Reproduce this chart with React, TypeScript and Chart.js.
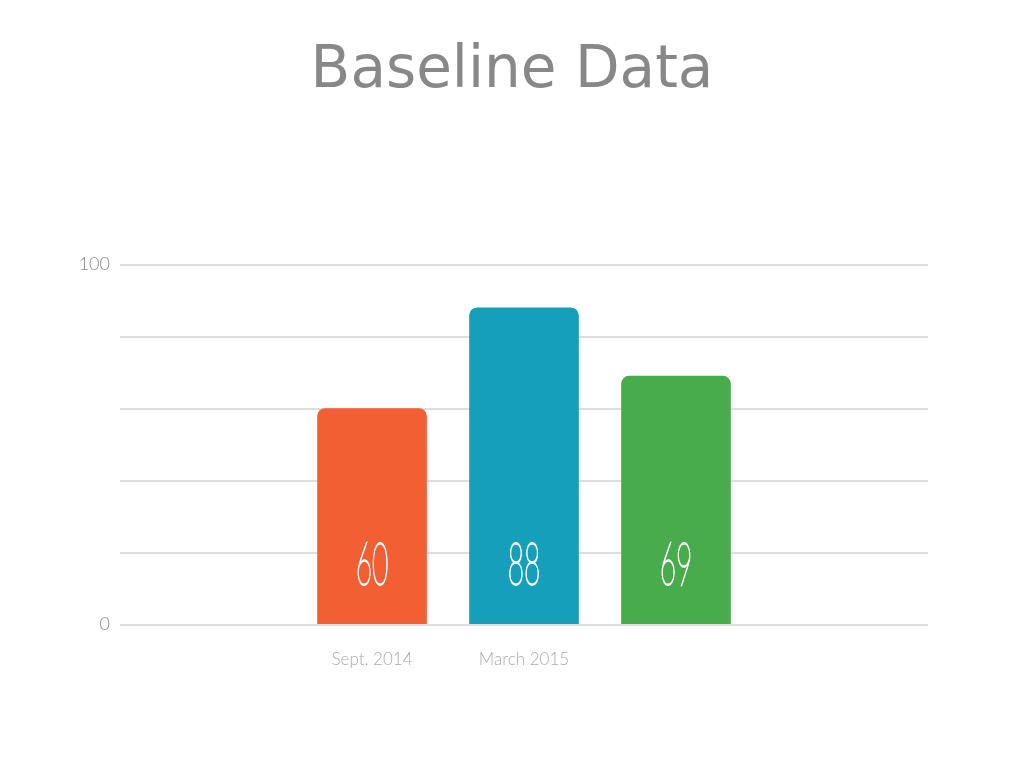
import React, { useEffect, useRef } from "react";
import { Chart, registerables } from "chart.js";

Chart.register(...registerables);

// ---- data ----
const chartTitle = "Baseline Data";
const categories = ["Sept. 2014", "March 2015", ""];
const positions = [1, 2, 3];
const values = [60, 88, 69];
const barColors = ["#F15F33", "#169FBA", "#49AC4C"];
const yTickValues = [0, 100];
const xMin = -0.658;
const xMax = 4.658;

const valueLabelPlugin = {
  id: "valueLabels",
  afterDatasetsDraw(chart: any) {
    const ctx = chart.ctx as CanvasRenderingContext2D;
    const meta = chart.getDatasetMeta(0);
    const y0 = chart.scales.y.getPixelForValue(0);
    ctx.save();
    ctx.fillStyle = "#ffffff";
    ctx.strokeStyle = "#ffffff";
    ctx.lineWidth = 1.8;
    ctx.font = "100 60px Lato";
    ctx.textAlign = "center";
    ctx.textBaseline = "alphabetic";
    meta.data.forEach((bar: any, i: number) => {
      ctx.save();
      ctx.translate(bar.x, y0 - 40);
      ctx.scale(0.47, 1);
      ctx.fillText(String(values[i]), 0, 0);
      ctx.strokeText(String(values[i]), 0, 0);
      ctx.restore();
    });
    ctx.restore();
  },
};

export default function App() {
  const canvasRef = useRef<HTMLCanvasElement | null>(null);

  useEffect(() => {
    if (!canvasRef.current) return;
    const chart = new Chart(canvasRef.current, {
      type: "bar",
      data: {
        datasets: [
          {
            data: positions.map((x, i) => ({ x, y: values[i] })),
            backgroundColor: barColors,
            barThickness: 109,
            borderRadius: { topLeft: 8, topRight: 8, bottomLeft: 0, bottomRight: 0 },
            borderSkipped: "start",
          },
        ],
      },
      options: {
        responsive: false,
        animation: false,
        events: [],
        layout: { padding: { left: 0, right: 0, top: 0, bottom: 73 } },
        plugins: {
          legend: { display: false },
          tooltip: { enabled: false },
          title: {
            display: true,
            text: chartTitle,
            color: "#888888",
            font: { family: "'DejaVu Sans'", size: 58, weight: "normal" },
            padding: { top: 37, bottom: 158 },
          },
        },
        scales: {
          x: {
            type: "linear",
            offset: false,
            bounds: "data",
            min: xMin,
            max: xMax,
            grid: { display: false, drawTicks: false, offset: false },
            border: { display: false },
            afterDataLimits: (scale: any) => {
              scale.min = xMin;
              scale.max = xMax;
            },
            afterBuildTicks: (scale: any) => {
              scale.ticks = positions.map((v) => ({ value: v }));
              scale.min = xMin;
              scale.max = xMax;
            },
            ticks: {
              autoSkip: false,
              includeBounds: false,
              maxRotation: 0,
              padding: 25,
              color: "#aaaaaa",
              font: { family: "Lato", size: 17, weight: "300" },
              callback: (v: any) => {
                const i = positions.indexOf(Number(v));
                return i >= 0 ? categories[i] : "";
              },
            },
          },
          y: {
            position: "left",
            min: 0,
            max: 100,
            grid: { color: "#dddddd", lineWidth: 2, drawTicks: false },
            border: { display: false },
            afterFit: (scale: any) => {
              scale.width = 120;
            },
            ticks: {
              stepSize: 20,
              padding: 10,
              color: "#888888",
              font: { family: "Lato", size: 18, weight: "300" },
              callback: (v: any) => (yTickValues.includes(Number(v)) ? String(v) : ""),
            },
          },
          yRight: {
            position: "right",
            display: true,
            min: 0,
            max: 100,
            grid: { display: false, drawTicks: false },
            border: { display: false },
            ticks: { display: false },
            afterFit: (scale: any) => {
              scale.width = 96;
            },
          },
        },
      },
      plugins: [valueLabelPlugin],
    } as any);
    return () => chart.destroy();
  }, []);

  return (
    <div style={{ position: "absolute", left: 0, top: 0, width: 1024, height: 768, background: "#fff" }}>
      <canvas ref={canvasRef} width={1024} height={768} style={{ display: "block" }} />
    </div>
  );
}
